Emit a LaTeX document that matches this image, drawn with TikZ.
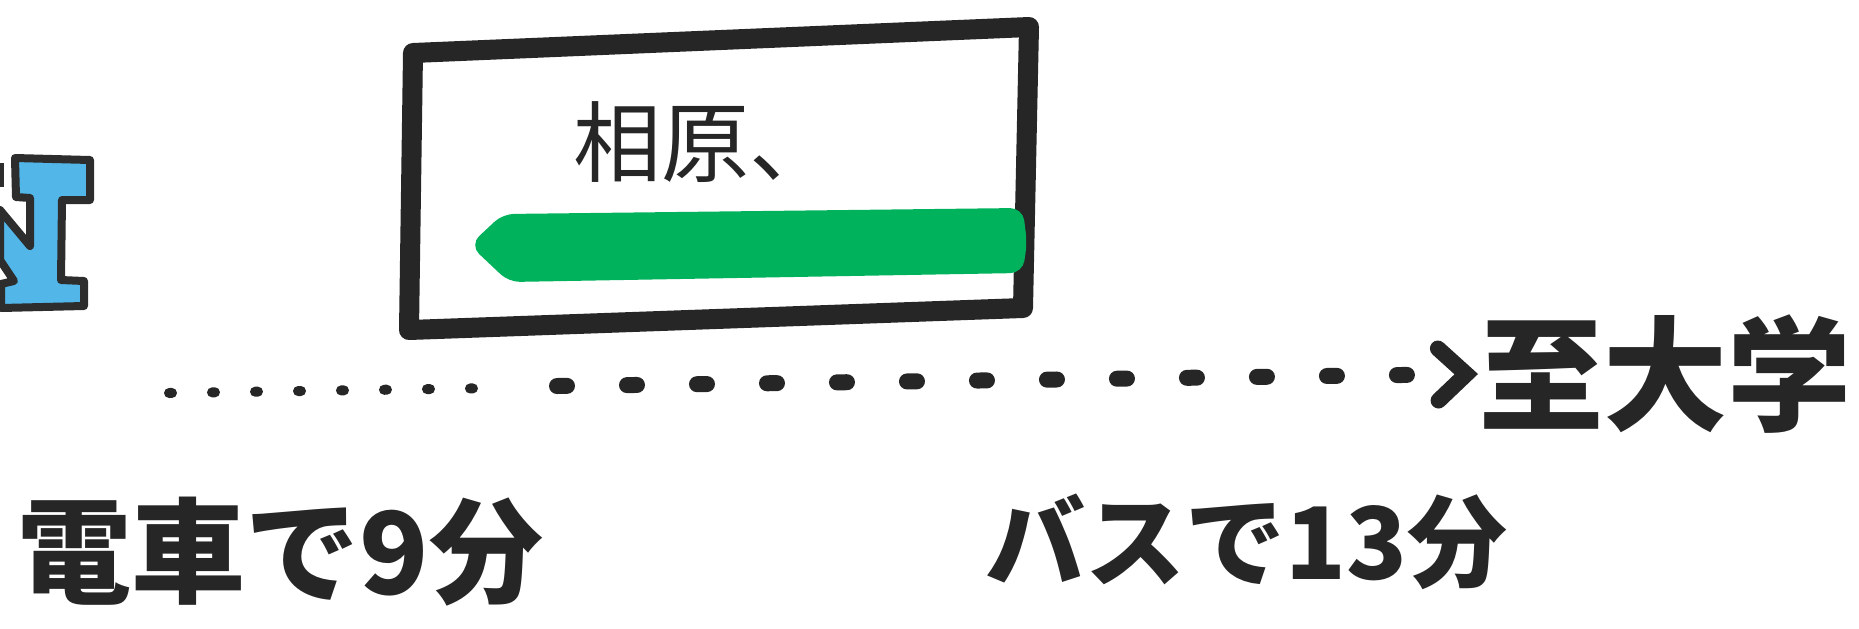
\documentclass[tikz,border=0pt]{standalone}
\usepackage{fontspec}
\usepackage{xcolor}
\usepackage{tikz}
\usetikzlibrary{arrows.meta}
\newfontfamily\jpfont{Noto Sans CJK JP}

\begin{document}
\begin{tikzpicture}[x=0.5pt,y=0.5pt,yscale=-1,xscale=1,
  inktext/.style={inner sep=0.75pt,text={rgb,255:red,38;green,38;blue,38}}]
\path[use as bounding box] (0,0) rectangle (1859,628);

%Shape: Polygon [id:blueletter]
\draw  [draw={rgb, 255:red, 45; green, 45; blue, 45 }, line width=4pt, line join=round, fill={rgb, 255:red, 82; green, 182; blue, 232 }  ,fill opacity=1 ] (0,210) -- (30,246) -- (30,198) -- (16,197) -- (15,158) -- (90,160) -- (90,200) -- (62,200) -- (61,280) -- (84,281) -- (84,306) -- (1,308) -- (1,284) -- (14,281) -- (0,260) -- cycle ;
%Straight Lines [id:blueedge]
\draw  [draw={rgb, 255:red, 45; green, 45; blue, 45 }, line width=2.5pt] (1,163) -- (1,187) ;

%Shape: Rectangle [id:signboard]
\draw  [draw={rgb, 255:red, 38; green, 38; blue, 38 }, line width=10pt, line join=round] (413,53) -- (1029,27) -- (1023,308) -- (409,330) -- cycle ;
%Shape: Arrow [id:greenbar]
\draw  [draw={rgb, 255:red, 0; green, 178; blue, 92 }, line width=3pt, rounded corners=5pt, fill={rgb, 255:red, 0; green, 178; blue, 92 }  ,fill opacity=1 ] (474,245) -- (504,217) -- (1020,211) -- (1024,243) -- (1020,270) -- (510,279) -- cycle ;

% Text Node
\node (station) [inktext] at (705,142) {\jpfont\fontsize{44pt}{50pt}\selectfont 相原、};
% Text Node
\node (campus) [inktext,anchor=west] at (1478,374) {\jpfont\bfseries\fontsize{62pt}{70pt}\selectfont 至大学};
% Text Node
\node (train) [inktext,anchor=west] at (16,552) {\jpfont\bfseries\fontsize{57pt}{64pt}\selectfont 電車で9分};
% Text Node
\node (bus) [inktext,anchor=west] at (984,542) {\jpfont\bfseries\fontsize{50pt}{56pt}\selectfont バスで13分};

%Straight Lines [id:trainpart]
\coordinate (walkstart) at (169,393);
\coordinate (walkmid) at (500,388);
\coordinate (busstart) at (557,386);
\draw  [draw={rgb, 255:red, 38; green, 38; blue, 38 }, line width=5pt, line cap=round, dash pattern=on 1.5pt off 20pt] (walkstart) -- (walkmid) ;
%Straight Lines [id:buspart]
\draw  [draw={rgb, 255:red, 38; green, 38; blue, 38 }, line width=8pt, line cap=round, dash pattern=on 5pt off 30pt, -{Straight Barb[length=14pt,width=26pt,line cap=round]}] (busstart) -- (campus.west) ;

\end{tikzpicture}
\end{document}
